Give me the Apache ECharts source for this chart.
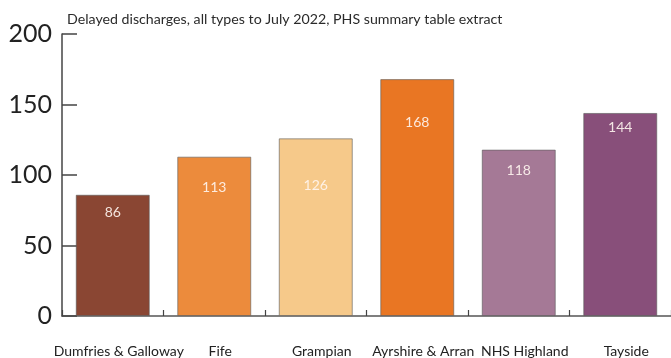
<!DOCTYPE html>
<html>
<head>
<meta charset="utf-8">
<script src="https://cdn.jsdelivr.net/npm/echarts@6/dist/echarts.min.js"></script>
<style>
  html, body { margin: 0; padding: 0; background: #ffffff; }
  #chart { width: 671px; height: 358px; }
</style>
</head>
<body>
<div id="chart"></div>
<script>
// Delayed discharges by health board
const boards = ['Dumfries & Galloway', 'Fife', 'Grampian', 'Ayrshire & Arran', 'NHS Highland', 'Tayside'];
const discharges = [86, 113, 126, 168, 118, 144];
const barColors = ['#8a4633', '#ec8b3c', '#f6c98a', '#e97623', '#a57996', '#884f7a'];
const yTicks = { min: 0, max: 200, step: 50 };

// gap between each bar top and its value label
const labelGap = [11, 24, 40, 36, 14, 8];

const FONT = 'Lato';

const chart = echarts.init(document.getElementById('chart'), null, { renderer: 'canvas' });

chart.setOption({
  backgroundColor: '#ffffff',
  animation: false,
  textStyle: { fontFamily: FONT },
  title: {
    text: 'Delayed discharges, all types to July 2022, PHS summary table extract',
    left: 62,
    top: 7,
    textStyle: { fontFamily: FONT, fontSize: 14.2, fontWeight: 'normal', color: '#2a2a2a' }
  },
  grid: { left: 62, top: 34, width: 620, height: 282, containLabel: false },
  xAxis: {
    type: 'category',
    data: boards,
    boundaryGap: true,
    axisLine: { lineStyle: { color: '#555', width: 1.5 } },
    axisTick: { show: true, inside: true, length: 6, lineStyle: { color: '#444', width: 1.2 } },
    axisLabel: {
      interval: 0,
      margin: 28,
      fontFamily: FONT,
      fontSize: 14,
      color: '#222',
      padding: [0, 0, 0, 12]
    }
  },
  yAxis: {
    type: 'value',
    min: yTicks.min,
    max: yTicks.max,
    interval: yTicks.step,
    splitLine: { show: false },
    axisLine: { show: true, lineStyle: { color: '#444', width: 1.5 } },
    axisTick: { show: true, inside: true, length: 15, lineStyle: { color: '#444', width: 1.5 } },
    axisLabel: { margin: 10, fontFamily: FONT, fontSize: 25, color: '#222' }
  },
  series: [{
    type: 'bar',
    barWidth: 74,
    data: discharges.map((v, i) => ({
      value: v,
      itemStyle: { color: barColors[i] },
      label: { distance: labelGap[i] }
    })),
    itemStyle: { borderColor: 'rgba(90,90,90,0.6)', borderWidth: 1 },
    label: {
      show: true,
      position: 'insideTop',
      fontFamily: FONT,
      fontSize: 14,
      color: 'rgba(255,245,240,0.9)'
    }
  }]
});
</script>
</body>
</html>
